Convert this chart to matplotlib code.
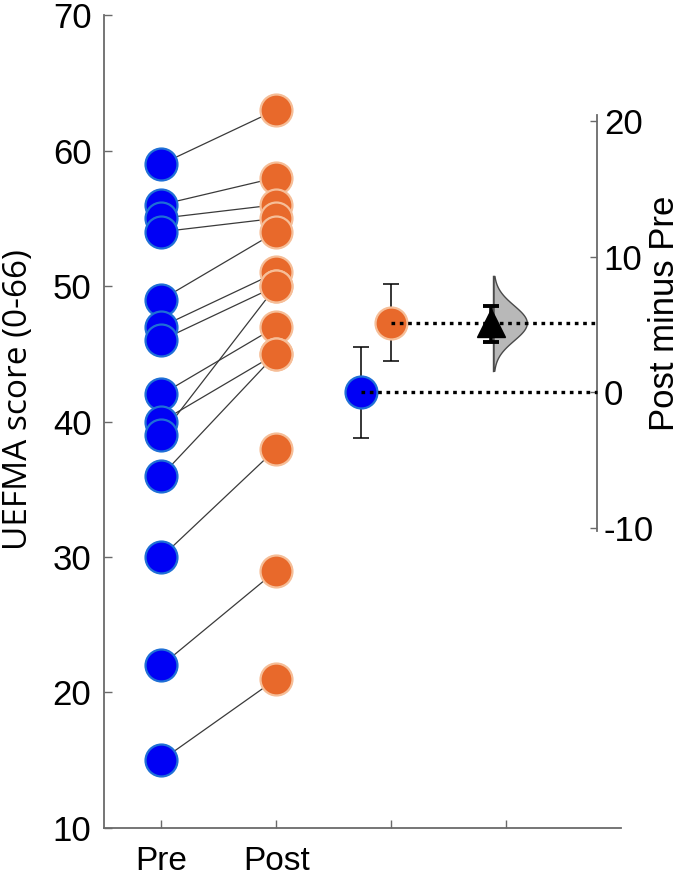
import numpy as np
import matplotlib
matplotlib.use("Agg")
import matplotlib.pyplot as plt

# ---- data ----
pre = [59, 56, 55, 54, 49, 47, 46, 42, 40, 39, 36, 30, 22, 15]
post = [63, 58, 56, 55, 54, 51, 50, 47, 45, 50, 45, 38, 29, 21]
group_labels = ["Pre", "Post"]
left_ticks = [10, 20, 30, 40, 50, 60, 70]
right_ticks = [-10, 0, 10, 20]
# summary
pre_err = 3.35
post_err = 2.85
effect_ci = [3.7, 6.4]
boot_range = [1.6, 8.6]
boot_sd = 1.3

pre_mean = float(np.mean(pre))
post_mean = float(np.mean(post))
effect = post_mean - pre_mean

BLUE = "#0000F5"
BLUE_E = "#1F6FD6"
ORANGE = "#E8692B"
ORANGE_E = "#F6BE98"

plt.rcParams['font.family'] = ['Liberation Sans', 'DejaVu Sans']
plt.rcParams['axes.unicode_minus'] = False

fig = plt.figure(figsize=(6.85, 8.83), dpi=100)
ax = fig.add_axes([0.1518, 0.0623, 0.7548, 0.9207])
ax.set_xlim(0.5, 5.0)
ax.set_ylim(10, 70)

# paired lines
for a, b in zip(pre, post):
    ax.plot([1, 2], [a, b], color="#3a3a3a", lw=0.9, zorder=1)
ax.plot(np.ones(len(pre)), pre, 'o', ms=23, mfc=BLUE, mec=BLUE_E, mew=1.6, zorder=3, ls='none')
ax.plot(np.full(len(post), 2.0), post, 'o', ms=23, mfc=ORANGE, mec=ORANGE_E, mew=1.6, zorder=3, ls='none')

# group means with error bars
ax.errorbar([2.735], [pre_mean], yerr=[pre_err], fmt='none', ecolor='black', elinewidth=1.1,
            capsize=5.5, capthick=1.1, zorder=2)
ax.plot([2.735], [pre_mean], 'o', ms=23, mfc=BLUE, mec=BLUE_E, mew=1.6, zorder=3)
ax.errorbar([3.0], [post_mean], yerr=[post_err], fmt='none', ecolor='black', elinewidth=1.1,
            capsize=5.5, capthick=1.1, zorder=2)
ax.plot([3.0], [post_mean], 'o', ms=23, mfc=ORANGE, mec=ORANGE_E, mew=1.6, zorder=3)

# left axis styling
for s in ['top', 'right']:
    ax.spines[s].set_visible(False)
for s in ['left', 'bottom']:
    ax.spines[s].set_color('#6a6a6a')
    ax.spines[s].set_linewidth(1.3)
ax.set_yticks(left_ticks)
ax.set_xticks([1, 2, 3, 4])
ax.set_xticklabels(group_labels + ["", ""])
ax.tick_params(axis='both', direction='in', length=6, width=1.0, color='#6a6a6a')
ax.tick_params(axis='y', pad=9, labelsize=25)
ax.tick_params(axis='x', pad=13, labelsize=24)
fig.text(19 / 685, 1 - 400 / 883, "UEFMA score (0-66)", rotation=90, ha='center', va='center',
         fontsize=24, family=['Open Sans', 'DejaVu Sans'])

# right (difference) axis
ax2 = ax.twinx()
ax2.set_ylim(10 - pre_mean, 70 - pre_mean)
for s in ['top', 'left', 'bottom']:
    ax2.spines[s].set_visible(False)
ax2.spines['right'].set_position(('data', 4.79))
ax2.spines['right'].set_bounds(-10.25, 20.45)
ax2.spines['right'].set_color('#6a6a6a')
ax2.spines['right'].set_linewidth(1.3)
ax2.set_yticks(right_ticks)
ax2.tick_params(axis='y', direction='in', length=5, width=1.0, color='#6a6a6a', labelsize=25, pad=5)
fig.text(665 / 685, 1 - 313 / 883, "Post minus Pre", rotation=90, ha='center', va='center', fontsize=25)

# dotted reference lines
ax2.plot([2.735, 4.79], [0, 0], color='black', lw=2.4, ls=(0, (1.1, 1.4)), zorder=5)
ax2.plot([3.0, 4.79], [effect, effect], color='black', lw=2.4, ls=(0, (1.1, 1.4)), zorder=5)

# bootstrap-like half violin
yy = np.linspace(boot_range[0], boot_range[1], 200)
dens = np.exp(-0.5 * ((yy - effect) / boot_sd) ** 2)
width = 0.29
x0 = 3.89
ax2.fill_betweenx(yy, x0, x0 + width * dens, facecolor='#b8b8b8', edgecolor='#4a4a4a', lw=1.0, zorder=3)
ax2.plot([x0, x0], boot_range, color='#4a4a4a', lw=1.0, zorder=3)

# effect size with CI
ax2.errorbar([3.87], [effect], yerr=[[effect - effect_ci[0]], [effect_ci[1] - effect]], fmt='none',
             ecolor='black', elinewidth=2.6, capsize=5.5, capthick=2.8, zorder=6)
ax2.plot([3.87], [effect], marker='^', ms=20, color='black', zorder=7, ls='none')

fig.savefig("out.png", dpi=100)
